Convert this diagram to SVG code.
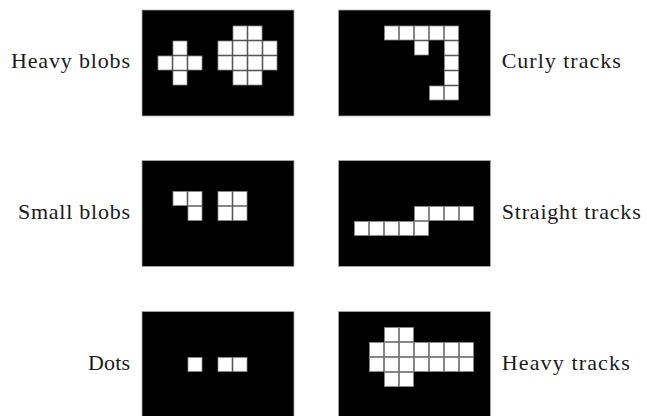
<svg xmlns="http://www.w3.org/2000/svg" width="647" height="416" viewBox="0 0 647 416">
<style>
.panel{fill:#000;stroke:#aaa;stroke-width:0.8}
.c{fill:#fff;stroke:#888;stroke-width:0.8}
.lbl{font-family:"Liberation Serif","DejaVu Serif",serif;font-size:22px;fill:#1a1a1a}
</style>
<defs>
<rect id="cell" class="c" width="14" height="14"/>
</defs>
<rect width="647" height="416" fill="#fff"/>
<g id="heavy-blobs" transform="translate(142,10)">
<rect class="panel" width="152" height="106"/>
<use href="#cell" x="31" y="31"/><use href="#cell" x="16" y="46"/><use href="#cell" x="31" y="46"/><use href="#cell" x="46" y="46"/><use href="#cell" x="31" y="61"/>
<use href="#cell" x="91" y="16"/><use href="#cell" x="106" y="16"/>
<use href="#cell" x="76" y="31"/><use href="#cell" x="91" y="31"/><use href="#cell" x="106" y="31"/><use href="#cell" x="121" y="31"/>
<use href="#cell" x="76" y="46"/><use href="#cell" x="91" y="46"/><use href="#cell" x="106" y="46"/><use href="#cell" x="121" y="46"/>
<use href="#cell" x="91" y="61"/><use href="#cell" x="106" y="61"/>
</g>
<g id="curly-tracks" transform="translate(338.5,10)">
<rect class="panel" width="152" height="106"/>
<use href="#cell" x="46" y="16"/><use href="#cell" x="61" y="16"/><use href="#cell" x="76" y="16"/><use href="#cell" x="91" y="16"/><use href="#cell" x="106" y="16"/>
<use href="#cell" x="76" y="31"/><use href="#cell" x="106" y="31"/>
<use href="#cell" x="106" y="46"/><use href="#cell" x="106" y="61"/>
<use href="#cell" x="91" y="76"/><use href="#cell" x="106" y="76"/>
</g>
<g id="small-blobs" transform="translate(142,160.5)">
<rect class="panel" width="152" height="106"/>
<use href="#cell" x="31" y="31"/><use href="#cell" x="46" y="31"/><use href="#cell" x="46" y="46"/>
<use href="#cell" x="76" y="31"/><use href="#cell" x="91" y="31"/><use href="#cell" x="76" y="46"/><use href="#cell" x="91" y="46"/>
</g>
<g id="straight-tracks" transform="translate(338.5,160.5)">
<rect class="panel" width="152" height="106"/>
<use href="#cell" x="76" y="46"/><use href="#cell" x="91" y="46"/><use href="#cell" x="106" y="46"/><use href="#cell" x="121" y="46"/>
<use href="#cell" x="16" y="61"/><use href="#cell" x="31" y="61"/><use href="#cell" x="46" y="61"/><use href="#cell" x="61" y="61"/><use href="#cell" x="76" y="61"/>
</g>
<g id="dots" transform="translate(142,311.5)">
<rect class="panel" width="152" height="106"/>
<use href="#cell" x="46" y="46"/><use href="#cell" x="76" y="46"/><use href="#cell" x="91" y="46"/>
</g>
<g id="heavy-tracks" transform="translate(338.5,311.5)">
<rect class="panel" width="152" height="106"/>
<use href="#cell" x="46" y="16"/><use href="#cell" x="61" y="16"/>
<use href="#cell" x="31" y="31"/><use href="#cell" x="46" y="31"/><use href="#cell" x="61" y="31"/><use href="#cell" x="76" y="31"/><use href="#cell" x="91" y="31"/><use href="#cell" x="106" y="31"/><use href="#cell" x="121" y="31"/>
<use href="#cell" x="31" y="46"/><use href="#cell" x="46" y="46"/><use href="#cell" x="61" y="46"/><use href="#cell" x="76" y="46"/><use href="#cell" x="91" y="46"/><use href="#cell" x="106" y="46"/><use href="#cell" x="121" y="46"/>
<use href="#cell" x="46" y="61"/><use href="#cell" x="61" y="61"/>
</g>
<g id="labels">
<text class="lbl" x="130" y="68.3" text-anchor="end" textLength="119" lengthAdjust="spacing">Heavy blobs</text>
<text class="lbl" x="501.7" y="68.3" textLength="119" lengthAdjust="spacing">Curly tracks</text>
<text class="lbl" x="130" y="219" text-anchor="end" textLength="112" lengthAdjust="spacing">Small blobs</text>
<text class="lbl" x="501.7" y="219" textLength="139" lengthAdjust="spacing">Straight tracks</text>
<text class="lbl" x="130" y="369.5" text-anchor="end" textLength="42" lengthAdjust="spacing">Dots</text>
<text class="lbl" x="501.7" y="369.5" textLength="128" lengthAdjust="spacing">Heavy tracks</text>
</g>
</svg>
